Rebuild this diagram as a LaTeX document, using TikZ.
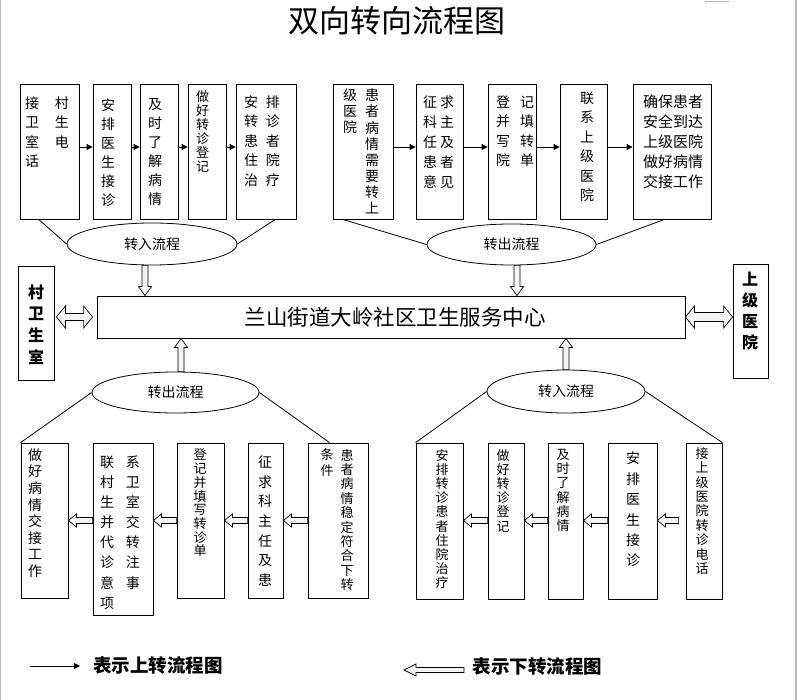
\documentclass[tikz,border=0pt]{standalone}
\usepackage{fontspec}
\newfontfamily\cjk{Noto Sans CJK SC}
\usetikzlibrary{shapes.geometric,arrows.meta,calc}

\newcommand{\hollowArrow}[5]{% tail, head, half shaft, half head, head length
  \path ($(#2)!#5!(#1)$) coordinate (hb);
  \draw[hollow] ($(#1)!#3!90:(#2)$) -- ($(hb)!#3!90:(#2)$) -- ($(hb)!#4!90:(#2)$) -- (#2)
     -- ($(hb)!#4!-90:(#2)$) -- ($(hb)!#3!-90:(#2)$) -- ($(#1)!#3!-90:(#2)$) -- cycle;}
\newcommand{\doubleArrow}[5]{% end a, end b, half shaft, half head, head length
  \path ($(#1)!#5!(#2)$) coordinate (hba) ($(#2)!#5!(#1)$) coordinate (hbb);
  \draw[hollow] (#1) -- ($(hba)!#4!90:(#2)$) -- ($(hba)!#3!90:(#2)$) -- ($(hbb)!#3!-90:(#1)$)
     -- ($(hbb)!#4!-90:(#1)$) -- (#2) -- ($(hbb)!#4!90:(#1)$) -- ($(hbb)!#3!90:(#1)$)
     -- ($(hba)!#3!-90:(#2)$) -- ($(hba)!#4!-90:(#2)$) -- cycle;}
\newcommand{\bx}[5]{\node[box, minimum width={(#4)-(#2)}, minimum height={(#5)-(#3)}] (#1) at ({((#2)+(#4))/2},{((#3)+(#5))/2}) {};}
\newcommand{\cjkfs}[2]{\cjk\fontsize{#1}{#2}\selectfont\lineskiplimit-30pt\relax}

\tikzset{
  box/.style={draw, line width=0.8pt, inner sep=0pt, fill=white},
  fs/.style 2 args={font={\cjkfs{#1}{#2}}},
  tx/.style={inner sep=0pt, align=center},
  txl/.style={inner sep=0pt, align=left},
  oval/.style={draw, ellipse, line width=0.8pt, inner sep=0pt, fill=white, font={\cjkfs{14}{14}}},
  thinline/.style={line width=0.8pt},
  sarrow/.style={line width=0.8pt, -{Triangle[length=6pt,width=6pt]}},
  hollow/.style={draw, line width=0.7pt, fill=gray!8, line join=miter},
  pagemark/.style={draw=gray!55, line width=1.2pt}
}

\begin{document}
\begin{tikzpicture}[x=1pt,y=-1pt]
\useasboundingbox (0,0) rectangle (797,700);
\fill[white] (0,0) rectangle (797,700);
% page marks
\draw[pagemark] (0.6,0) -- (0.6,700);
\draw[pagemark] (796,0) -- (796,700);
\draw[draw=gray!55, line width=0.8pt] (705,3) -- (705,1) -- (729,1);

% title
\node[fs={31}{31}, inner sep=0pt] (title) at (397,21) {双向转向流程图};

% ---------- top row boxes ----------
\bx{t1}{20}{84}{79}{219}
\bx{t2}{93}{84}{131}{219}
\bx{t3}{140}{84}{178}{219}
\bx{t4}{188}{84}{226}{219}
\bx{t5}{236}{84}{296}{219}
\bx{t6}{333}{84}{393}{219}
\bx{t7}{416}{84}{463}{219}
\bx{t8}{488}{84}{536}{219}
\bx{t9}{560}{84}{607}{219}
\bx{t10}{633}{84}{711}{219}

\node[txl, fs={14}{19.5}] (t1x) at (47,132) {接\hspace{16pt}村\\卫\hspace{16pt}生\\室\hspace{16pt}电\\话};
\node[tx, fs={14}{19}] (t2x) at (108,152.5) {安\\排\\医\\生\\接\\诊};
\node[tx, fs={14}{19}] (t3x) at (155,152.5) {及\\时\\了\\解\\病\\情};
\node[tx, fs={13}{14}] (t4x) at (202.5,131.5) {做\\好\\转\\诊\\登\\记};
\node[txl, fs={14}{19.5}] (t5x) at (262,141) {安\hspace{8pt}排\\转\hspace{8pt}诊\\患\hspace{8pt}者\\住\hspace{8pt}院\\治\hspace{8pt}疗};
\node[tx, fs={14}{16.1}] (t6a) at (372,151.5) {患\\者\\病\\情\\需\\要\\转\\上};
\node[tx, fs={14}{16}] (t6b) at (350,111) {级\\医\\院};
\node[txl, fs={14}{20}] (t7x) at (438.5,142.5) {征\hspace{3pt}求\\科\hspace{3pt}主\\任\hspace{3pt}及\\患\hspace{3pt}者\\意\hspace{3pt}见};
\node[txl, fs={14}{19.5}] (t8x) at (515,131) {登\hspace{10pt}记\\并\hspace{10pt}填\\写\hspace{10pt}转\\院\hspace{10pt}单};
\node[tx, fs={14}{19.5}] (t9x) at (587,146.75) {联\\系\\上\\级\\医\\院};
\node[tx, fs={15}{20}] (t10x) at (673,141.5) {确保患者\\安全到达\\上级医院\\做好病情\\交接工作};

\foreach \a/\b in {t1/t2,t2/t3,t3/t4,t4/t5,t6/t7,t7/t8,t8/t9,t9/t10}
  \draw[sarrow] ([yshift=4.5pt]\a.east) -- ([yshift=4.5pt]\b.west);

% ---------- ellipses ----------
\node[oval, minimum width=170pt, minimum height=42pt] (e1) at (152,244) {转入流程};
\node[oval, minimum width=169pt, minimum height=41pt] (e2) at (511.5,244.5) {转出流程};
\node[oval, minimum width=167pt, minimum height=41pt] (e3) at (175.5,392.5) {转出流程};
\node[oval, minimum width=158pt, minimum height=43pt] (e4) at (566,391.5) {转入流程};

\draw[thinline] (e1.west) -- ([xshift=19pt]t1.south west);
\draw[thinline] (e1.east) -- ([xshift=-21pt]t5.south east);
\draw[thinline] (e2.west) -- ([xshift=10pt]t6.south west);
\draw[thinline] (e2.east) -- ([xshift=32pt]t10.south west);

% ---------- centre row ----------
\bx{c}{97}{296}{685}{338}
\node[fs={21.5}{21.5}, inner sep=0pt] (ct) at (395,317) {兰山街道大岭社区卫生服务中心};
\bx{L}{18}{266}{54}{380}
\node[tx, font={\cjkfs{16}{21.7}\bfseries}] (Lt) at (36,324.5) {村\\卫\\生\\室};
\bx{R}{733}{264}{768}{378}
\node[tx, font={\cjkfs{16}{21}\bfseries}] (Rt) at (750,311.5) {上\\级\\医\\院};

\path ([xshift=-7pt]e1.south) coordinate (va1s);
\path (va1s |- c.north) coordinate (va1e);
\hollowArrow{va1s}{va1e}{3pt}{6.5pt}{9pt}
\path ([xshift=5.5pt]e2.south) coordinate (va2s);
\path (va2s |- c.north) coordinate (va2e);
\hollowArrow{va2s}{va2e}{3pt}{6.5pt}{9pt}
\path ([xshift=5.5pt]e3.north) coordinate (va3s);
\path (va3s |- c.south) coordinate (va3e);
\hollowArrow{va3s}{va3e}{3pt}{6.5pt}{9pt}
\path (e4.north) coordinate (va4s);
\path (va4s |- c.south) coordinate (va4e);
\hollowArrow{va4s}{va4e}{3pt}{6.5pt}{9pt}

\path (L.east |- c.west) ++(2pt,0) coordinate (dl1);
\path (c.west) ++(-4pt,0) coordinate (dl2);
\doubleArrow{dl1}{dl2}{3.5pt}{11pt}{9pt}
\path (c.east) coordinate (dr1);
\path (R.west |- c.east) coordinate (dr2);
\doubleArrow{dr1}{dr2}{4.5pt}{11pt}{9pt}

% ---------- bottom row boxes ----------
\bx{b1}{21}{443}{68}{598}
\bx{b2}{93}{443}{153}{615}
\bx{b3}{177}{443}{224}{598}
\bx{b4}{248}{443}{283}{598}
\bx{b5}{308}{443}{368}{598}
\bx{c1}{416}{443}{463}{599}
\bx{c2}{488}{443}{524}{599}
\bx{c3}{548}{443}{583}{599}
\bx{c4}{608}{443}{657}{599}
\bx{c5}{686}{443}{722}{599}

\node[tx, fs={14}{16.6}] (b1x) at (35,513) {做\\好\\病\\情\\交\\接\\工\\作};
\node[txl, fs={14}{20.1}] (b2x) at (120,532.5) {联\hspace{12pt}系\\村\hspace{12pt}卫\\生\hspace{12pt}室\\并\hspace{12pt}交\\代\hspace{12pt}转\\诊\hspace{12pt}注\\意\hspace{12pt}事\\项};
\node[tx, fs={13}{13.7}] (b3x) at (200,503) {登\\记\\并\\填\\写\\转\\诊\\单};
\node[tx, fs={14}{19.7}] (b4x) at (265,521) {征\\求\\科\\主\\任\\及\\患};
\node[tx, fs={13}{14.4}] (b5a) at (347,520) {患\\者\\病\\情\\稳\\定\\符\\合\\下\\转};
\node[tx, fs={13}{16}] (b5b) at (327,462.5) {条\\件};
\node[tx, fs={13}{14.2}] (c1x) at (442,519) {安\\排\\转\\诊\\患\\者\\住\\院\\治\\疗};
\node[tx, fs={13}{14.2}] (c2x) at (503,490.5) {做\\好\\转\\诊\\登\\记};
\node[tx, fs={13}{14.2}] (c3x) at (563,490.5) {及\\时\\了\\解\\病\\情};
\node[tx, fs={14}{20.4}] (c4x) at (633,509.5) {安\\排\\医\\生\\接\\诊};
\node[tx, fs={13}{14.4}] (c5x) at (702,511) {接\\上\\级\\医\\院\\转\\诊\\电\\话};

\draw[thinline] (e3.west) -- (b1.north west);
\draw[thinline] (e3.east) -- ([xshift=22pt]b5.north west);
\draw[thinline] (e4.west) -- (c1.north west);
\draw[thinline] (e4.east) -- (c5.north east);

\foreach \a/\b in {b2/b1,b3/b2,b4/b3,b5/b4,c2/c1,c3/c2,c4/c3}{
  \path (\a.west |- b1.east) coordinate (ht) (\b.east |- b1.east) coordinate (hh);
  \hollowArrow{ht}{hh}{3pt}{6.5pt}{8pt}
}
\path (c5.west |- b1.east) ++(-7pt,0) coordinate (c5t);
\path (c4.east |- b1.east) coordinate (c4h);
\hollowArrow{c5t}{c4h}{3pt}{6.5pt}{8pt}

% ---------- legend ----------
\coordinate (lga) at (30,666);
\coordinate (lgb) at (80,666);
\draw[sarrow] (lga) -- (lgb);
\node[inner sep=0pt, font={\cjkfs{18.5}{18.5}\bfseries}] (lgt1) at (158,666) {表示上转流程图};
\coordinate (lgc) at (464,670);
\coordinate (lgd) at (404,670);
\hollowArrow{lgc}{lgd}{2.5pt}{6pt}{12pt}
\node[inner sep=0pt, font={\cjkfs{18.5}{18.5}\bfseries}] (lgt2) at (537.5,667) {表示下转流程图};
\end{tikzpicture}
\end{document}
